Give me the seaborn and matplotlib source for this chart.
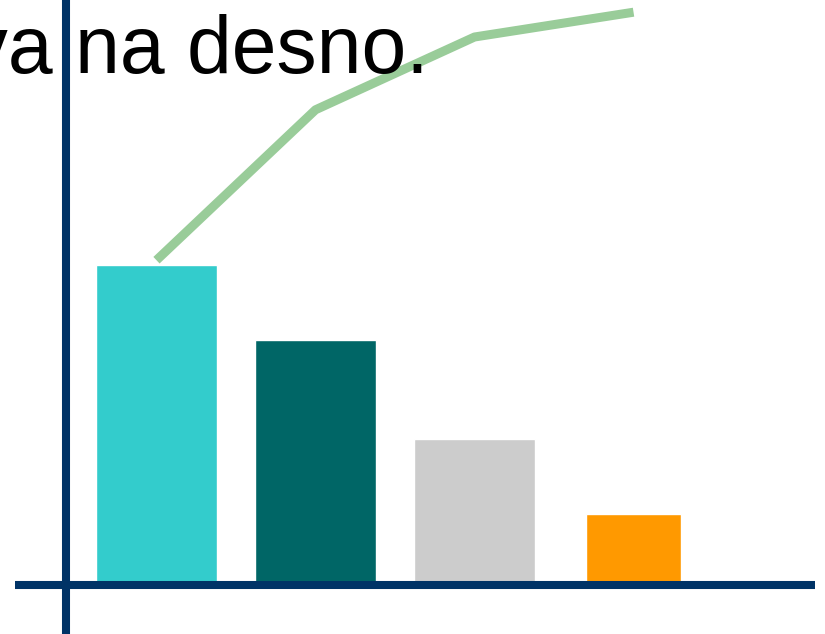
import matplotlib
matplotlib.use("Agg")
import matplotlib.pyplot as plt
import seaborn as sns
import pandas as pd

# ---- data ----
categories = ["A", "B", "C", "D"]
bar_values = [40.0, 30.6, 18.3, 8.9]
line_values = [40.6, 59.4, 68.5, 71.6]
bar_colors = ["#33CCCC", "#006666", "#CCCCCC", "#FF9900"]
caption = "leva na desno."

sns.set_theme(style="white")
plt.rcParams["font.family"] = ["Liberation Sans", "DejaVu Sans"]

fig = plt.figure(figsize=(8.25, 6.34), dpi=100)
ax = fig.add_axes([0, 0, 1, 1])

df = pd.DataFrame({"cat": categories, "val": bar_values})
sns.barplot(data=df, x="cat", y="val", hue="cat", palette=bar_colors,
            width=0.76, legend=False, ax=ax, saturation=1, zorder=2)

# narrower last bar, as in the reference
last = ax.patches[3]
cx = last.get_x() + last.get_width() / 2
new_w = 0.60
last.set_width(new_w)
last.set_x(cx - new_w / 2)

ldf = pd.DataFrame({"cat": categories, "cum": line_values})
sns.lineplot(data=ldf, x="cat", y="cum", color="#99CC99", linewidth=6.5,
             ax=ax, zorder=3, sort=False, solid_capstyle="butt")

# axes framing
ax.set_xlim(-0.984, 4.204)
ax.set_ylim(-6.125, 73.125)
for s in ax.spines.values():
    s.set_visible(False)
ax.set_xticks([])
ax.set_yticks([])
ax.set_xlabel("")
ax.set_ylabel("")

navy = "#003366"
ax.axhline(0, xmin=15 / 825, xmax=815 / 825, color=navy, linewidth=5.8,
           zorder=5, solid_capstyle="butt")
ax.axvline(-0.569, color=navy, linewidth=5.8, zorder=5, solid_capstyle="butt")

fig.text(429 / 825, (634 - 73) / 634, caption, ha="right", va="baseline",
         fontsize=58, color="black", zorder=1)

fig.savefig("out.png", dpi=100)
